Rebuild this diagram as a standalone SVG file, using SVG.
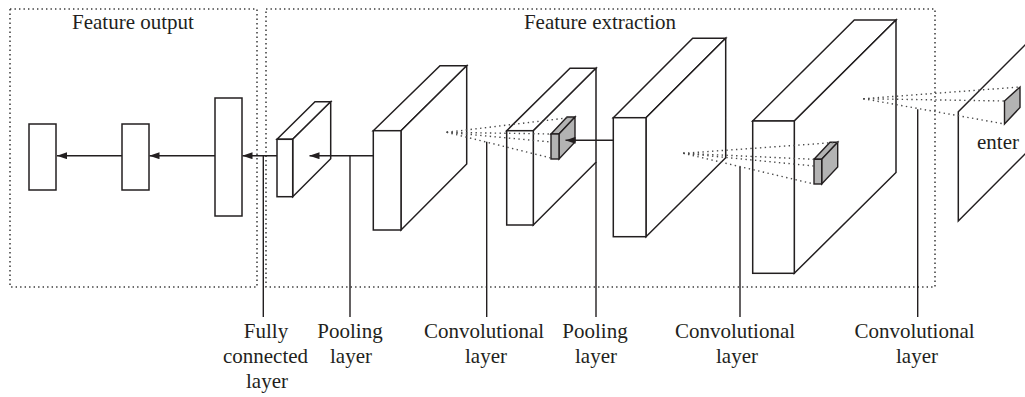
<svg xmlns="http://www.w3.org/2000/svg" width="1025" height="397" viewBox="0 0 1025 397">
  <style>
    .frame { fill: none; stroke: #3a3a3a; stroke-width: 1.5; stroke-dasharray: 1.4 3.1; }
    .face { fill: #ffffff; stroke: #231f20; stroke-width: 1.5; stroke-linejoin: miter; }
    .kernel { fill: #b3b3b3; stroke: #231f20; stroke-width: 1.4; }
    .wire { fill: none; stroke: #231f20; stroke-width: 1.4; }
    .rf { fill: none; stroke: #4a4a4a; stroke-width: 1.4; stroke-dasharray: 1.4 3.4; }
    .title { font-family: "Liberation Serif", "Times New Roman", serif; font-size: 21px; fill: #231f20; text-anchor: middle; }
    .label { font-family: "Liberation Serif", "Times New Roman", serif; font-size: 21px; fill: #231f20; text-anchor: middle; }
  </style>
  <defs>
    <marker id="arrow" viewBox="0 0 10 7" refX="10" refY="3.5" markerWidth="10" markerHeight="7" markerUnits="userSpaceOnUse" orient="auto">
      <path d="M0,0 L10,3.5 L0,7 z" fill="#231f20"/>
    </marker>
  </defs>

  <rect width="1025" height="397" fill="#ffffff"/>

  <!-- dotted stage frames -->
  <g id="stage-output">
    <rect class="frame" x="10" y="9" width="247" height="278"/>
    <text class="title" x="133" y="29">Feature output</text>
  </g>
  <g id="stage-extraction">
    <rect class="frame" x="266" y="9" width="669" height="278"/>
    <text class="title" x="600" y="29">Feature extraction</text>
  </g>

  <!-- output units -->
  <g id="out-unit">
    <rect class="face" x="29" y="124" width="27" height="66"/>
  </g>
  <g id="hidden-unit">
    <rect class="face" x="122" y="124" width="27" height="66"/>
  </g>
  <g id="fc-column">
    <rect class="face" x="215" y="98" width="27" height="118"/>
  </g>

  <!-- pooled block -->
  <g id="pool-2">
    <polygon class="face" points="277,139.3 315,101.7 330.7,101.7 292.7,139.3"/>
    <polygon class="face" points="292.7,139.3 330.7,101.7 330.7,158.7 292.7,196.7"/>
    <rect class="face" x="277" y="139.3" width="15.7" height="57.4"/>
  </g>

  <!-- convolution block 3 -->
  <g id="conv-3">
    <polygon class="face" points="373.3,130.7 440,65.7 466.7,65.7 401,130.7"/>
    <polygon class="face" points="401,130.7 466.7,65.7 466.7,164 401,230"/>
    <rect class="face" x="373.3" y="130.7" width="27.7" height="99.3"/>
  </g>

  <!-- pooling block 1 -->
  <g id="pool-1">
    <polygon class="face" points="506.7,130.7 570,68.3 596,68.3 533.3,130.7"/>
    <polygon class="face" points="533.3,130.7 596,68.3 596,162.3 533.3,225"/>
    <rect class="face" x="506.7" y="130.7" width="26.6" height="94.3"/>
    <!-- pooling window -->
    <polygon class="kernel" points="551,134 567,117 575,117 559,134"/>
    <polygon class="kernel" points="559,134 575,117 575,142 559,159"/>
    <rect class="kernel" x="551" y="134" width="8" height="25"/>
  </g>

  <!-- convolution block 2 -->
  <g id="conv-2">
    <polygon class="face" points="613.3,117.7 692.7,38.3 725.7,38.3 646,117.7"/>
    <polygon class="face" points="646,117.7 725.7,38.3 725.7,157.7 646,236.7"/>
    <rect class="face" x="613.3" y="117.7" width="32.7" height="119"/>
  </g>

  <!-- convolution block 1 -->
  <g id="conv-1">
    <polygon class="face" points="752.7,121 854.3,20 896,20 794.3,121"/>
    <polygon class="face" points="794.3,121 896,20 896,172.5 794.3,273.3"/>
    <rect class="face" x="752.7" y="121" width="41.6" height="152.3"/>
    <!-- convolution kernel -->
    <polygon class="kernel" points="814,159.3 830,142.3 837.7,142.3 821.7,159.3"/>
    <polygon class="kernel" points="821.7,159.3 837.7,142.3 837.7,167 821.7,184"/>
    <rect class="kernel" x="814" y="159.3" width="7.7" height="24.7"/>
  </g>

  <!-- input plane -->
  <g id="input">
    <polygon class="face" points="958.3,111.7 1030,40 1030,149 958.3,221"/>
    <polygon class="kernel" points="1004.5,101 1020,87 1020,107.5 1004.5,124"/>
    <text class="label" x="998" y="149">enter</text>
  </g>

  <!-- connectors: data flow, receptive fields and callout leaders -->
  <g id="connectors">
    <line class="wire" x1="122" y1="155.7" x2="57" y2="155.7" marker-end="url(#arrow)"/>
    <line class="wire" x1="215" y1="155.7" x2="149.5" y2="155.7" marker-end="url(#arrow)"/>
    <line class="wire" x1="277" y1="155.7" x2="242.5" y2="155.7" marker-end="url(#arrow)"/>
    <line class="wire" x1="373.3" y1="155.7" x2="309.5" y2="155.7" marker-end="url(#arrow)"/>
    <line class="wire" x1="613.3" y1="140.3" x2="565.5" y2="140.3" marker-end="url(#arrow)"/>

    <!-- receptive fields -->
    <line class="rf" x1="446.7" y1="132.3" x2="575" y2="117"/>
    <line class="rf" x1="446.7" y1="132.3" x2="551" y2="134"/>
    <line class="rf" x1="446.7" y1="132.3" x2="551" y2="142"/>
    <line class="rf" x1="446.7" y1="132.3" x2="551" y2="158"/>

    <line class="rf" x1="683.3" y1="153.3" x2="837.7" y2="142.3"/>
    <line class="rf" x1="683.3" y1="153.3" x2="814" y2="159.3"/>
    <line class="rf" x1="683.3" y1="153.3" x2="814" y2="166"/>
    <line class="rf" x1="683.3" y1="153.3" x2="814" y2="184"/>

    <line class="rf" x1="863.3" y1="98.7" x2="1020" y2="87"/>
    <line class="rf" x1="863.3" y1="98.7" x2="1004.5" y2="101"/>
    <line class="rf" x1="863.3" y1="98.7" x2="1004.5" y2="124"/>

    <!-- leaders -->
    <line class="wire" x1="263.3" y1="155.7" x2="263.3" y2="317"/>
    <line class="wire" x1="350" y1="155.7" x2="350" y2="317"/>
    <line class="wire" x1="486.7" y1="141.7" x2="486.7" y2="317"/>
    <line class="wire" x1="596" y1="162" x2="596" y2="317"/>
    <line class="wire" x1="740" y1="166.7" x2="740" y2="317"/>
    <line class="wire" x1="917.7" y1="109.3" x2="917.7" y2="317"/>
  </g>

  <!-- layer captions -->
  <g id="captions">
    <text class="label" x="266" y="338">Fully</text>
    <text class="label" x="265.5" y="363">connected</text>
    <text class="label" x="267" y="388">layer</text>
    <text class="label" x="350" y="338">Pooling</text>
    <text class="label" x="351" y="363">layer</text>
    <text class="label" x="484" y="338">Convolutional</text>
    <text class="label" x="486" y="363">layer</text>
    <text class="label" x="595" y="338">Pooling</text>
    <text class="label" x="596" y="363">layer</text>
    <text class="label" x="735" y="338">Convolutional</text>
    <text class="label" x="737" y="363">layer</text>
    <text class="label" x="914.5" y="338">Convolutional</text>
    <text class="label" x="917" y="363">layer</text>
  </g>
</svg>
